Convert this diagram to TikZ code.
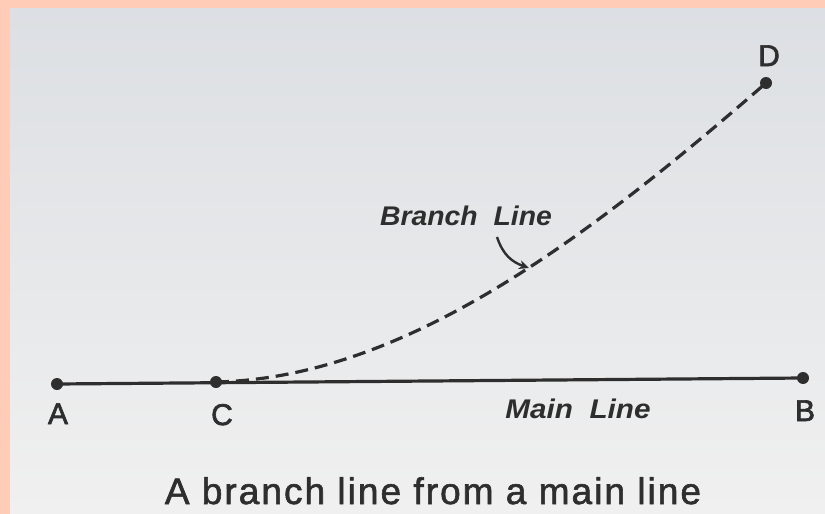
\documentclass[tikz,border=0pt]{standalone}
\usepackage{fontspec}
\setmainfont{Liberation Sans}
\newfontfamily\heavyfont[FakeBold=1.6,LetterSpace=5.5]{Liberation Sans}
\newfontfamily\letterfont[FakeBold=2.2]{Liberation Sans}
\usetikzlibrary{arrows.meta}
\definecolor{pinkbg}{HTML}{FFCCB8}
\definecolor{papertop}{HTML}{DCDFE3}
\definecolor{paperbot}{HTML}{F0F0F0}
\definecolor{ink}{HTML}{2E2E2E}
\begin{document}
\begin{tikzpicture}[x=1pt,y=-1pt,
  dotpt/.style={circle,fill=ink,inner sep=0pt,minimum size=12pt},
  letter/.style={font=\letterfont\fontsize{30}{30}\selectfont,text=ink,inner sep=0pt,anchor=base},
  lbl/.style={font=\fontsize{27}{27}\selectfont\bfseries\itshape,text=ink,inner sep=0pt,anchor=base},
  capt/.style={font=\heavyfont\fontsize{37}{37}\selectfont,text=ink,inner sep=0pt,anchor=base},
  mainline/.style={line width=3.2pt,draw=ink},
  branchline/.style={line width=3.2pt,draw=ink,dash pattern=on 13pt off 7pt},
  pointer/.style={line width=2.4pt,draw=ink,-{Stealth[length=10pt,width=9pt]}}]
\useasboundingbox (0,0) rectangle (825,514);
\fill[pinkbg] (0,0) rectangle (825,514);
\shade[top color=papertop,bottom color=paperbot] (10,8) rectangle (825,514);
% points
\node[dotpt] (A) at (57,384) {};
\node[dotpt] (C) at (216,382) {};
\node[dotpt] (B) at (803,378) {};
\node[dotpt] (D) at (766,83) {};
% lines
\draw[mainline] (A.center) -- (B.center);
\draw[branchline] (C.center) .. controls (400,378) and (580,245) .. (D.center);
% labels
\node[letter] (la) at (58,424) {A};
\node[letter] (lc) at (222,425) {C};
\node[letter] (lb) at (805,421) {B};
\node[letter] (ld) at (769,66) {D};
\node[lbl] (main) at (578,418) {\scalebox{1.1}[1]{Main\ \ Line}};
\node[lbl] (branch) at (466,225) {\scalebox{1.05}[1]{Branch\ \ Line}};
\coordinate (start) at (497,237);
\coordinate (tip) at (529,268);
\draw[pointer] (start) .. controls (503,255) and (512,262) .. (tip);
% caption
\node[capt] (cap) at (433,504) {A branch line from a main line};
\end{tikzpicture}
\end{document}
